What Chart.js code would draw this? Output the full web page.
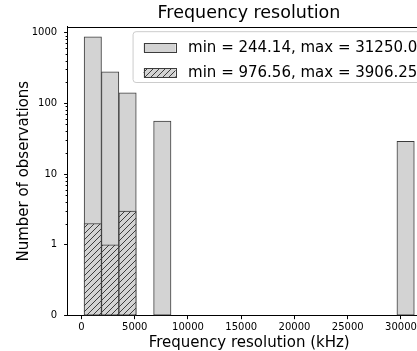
<!DOCTYPE html>
<html>
<head>
<meta charset="utf-8">
<title>Frequency resolution</title>
<script src="https://cdn.jsdelivr.net/npm/chart.js@4.4.0/dist/chart.umd.min.js"></script>
<style>
  html, body { margin: 0; padding: 0; overflow: hidden; background: #fff; }
  #wrap { width: 498px; height: 351px; }
</style>
</head>
<body>
<div id="wrap"><canvas id="myChart" width="498" height="351"></canvas></div>
<script>
// histogram bins (19 bins between 244.14 and 31250.0 kHz), centres in kHz
const binCenters = [1060.09, 2691.97, 4323.86, 5955.75, 7587.63, 9219.52, 10851.41, 12483.30,
    14115.18, 15747.07, 17378.96, 19010.84, 20642.73, 22274.62, 23906.51, 25538.39,
    27170.28, 28802.17, 30434.06];
const allCounts    = [861, 276, 140, 0, 56, 0, 0, 0, 0, 0, 0, 0, 0, 0, 0, 0, 0, 0, 29];
const narrowCounts = [2, 1, 3, 0, 0, 0, 0, 0, 0, 0, 0, 0, 0, 0, 0, 0, 0, 0, 0];
const seriesLabels = ['min = 244.14, max = 31250.0', 'min = 976.56, max = 3906.25'];

const xTicks = [0, 5000, 10000, 15000, 20000, 25000, 30000];
const yTicks = [0, 1, 10, 100, 1000];
const yMinorTicks = [2, 3, 4, 5, 6, 7, 8, 9, 20, 30, 40, 50, 60, 70, 80, 90,
    200, 300, 400, 500, 600, 700, 800, 900];

const edgeColor = '#3c3c3c';
const fillColor = '#d3d3d3';

Chart.defaults.font.family = '"DejaVu Sans", sans-serif';
Chart.defaults.color = '#000';

// symlog, linthresh = 1: linear between 0 and 1, log above
function symlog(v){ return v <= 1 ? v : 1 + Math.log10(v); }
function symexp(t){ return t <= 1 ? t : Math.pow(10, t - 1); }

class SymlogScale extends Chart.LinearScale {
    buildTicks(){
        return yTicks.filter(v => v >= this.min && v <= this.max).map(v => ({value: v}));
    }
    configure(){
        super.configure();
        this._tStart = symlog(this.min);
        this._tRange = symlog(this.max) - this._tStart;
    }
    getPixelForValue(v){
        return this.getPixelForDecimal((symlog(v) - this._tStart) / this._tRange);
    }
    getValueForPixel(p){
        return symexp(this._tStart + this.getDecimalForPixel(p) * this._tRange);
    }
}
SymlogScale.id = 'symlog';
SymlogScale.defaults = {};
Chart.register(SymlogScale);

function makeHatch(bg, fg){
    const s = 6;
    const c = document.createElement('canvas');
    c.width = s; c.height = s;
    const g = c.getContext('2d');
    g.fillStyle = bg;
    g.fillRect(0, 0, s, s);
    g.strokeStyle = fg;
    g.lineWidth = 1;
    g.beginPath();
    g.moveTo(-1, s + 1); g.lineTo(s + 1, -1);
    g.moveTo(-1, 1); g.lineTo(1, -1);
    g.moveTo(s - 1, s + 1); g.lineTo(s + 1, s - 1);
    g.stroke();
    return g.createPattern(c, 'repeat');
}

function toPoints(counts){
    let pts = [];
    for (let i = 0; i < counts.length; i++) {
        if (counts[i] > 0) pts.push({x: binCenters[i], y: counts[i]});
    }
    return pts;
}

// matplotlib style legend inside the axes, upper right
const mplLegend = {
    id: 'mplLegend',
    afterDatasetsDraw(chart){
        const ctx = chart.ctx, area = chart.chartArea;
        const sets = chart.data.datasets;
        ctx.save();
        ctx.font = '15px "DejaVu Sans"';
        let textW = 0;
        for (let ds of sets) textW = Math.max(textW, ctx.measureText(ds.label).width);
        const right = area.right - 7.5;
        const textX = right - 6 - textW;
        const patchR = textX - 12.5, patchL = patchR - 32;
        const left = patchL - 11;
        const top = area.top + 4.5, bottom = area.top + 55.3;
        ctx.beginPath();
        if (ctx.roundRect) ctx.roundRect(left + 0.5, top + 0.5, right - left, bottom - top, 3);
        else ctx.rect(left + 0.5, top + 0.5, right - left, bottom - top);
        ctx.fillStyle = 'rgba(255,255,255,0.8)';
        ctx.fill();
        ctx.strokeStyle = '#cccccc';
        ctx.lineWidth = 1;
        ctx.stroke();
        sets.forEach((ds, i) => {
            const cy = area.top + 21 + i * 25.3;
            ctx.fillStyle = ds.backgroundColor;
            ctx.fillRect(patchL, cy - 4.7, 32, 9.4);
            ctx.strokeStyle = ds.borderColor;
            ctx.strokeRect(Math.round(patchL) + 0.5, Math.round(cy - 4.7) + 0.5, 32, 9);
            ctx.fillStyle = '#000';
            ctx.textBaseline = 'middle';
            ctx.textAlign = 'left';
            ctx.fillText(ds.label, textX, cy);
        });
        ctx.restore();
    }
};

// top/right spines and minor ticks on the y axis
const spines = {
    id: 'spines',
    afterDraw(chart){
        const ctx = chart.ctx, area = chart.chartArea;
        const ys = chart.scales.y;
        ctx.save();
        ctx.strokeStyle = '#000';
        ctx.lineWidth = 1;
        ctx.beginPath();
        const t = Math.round(area.top) + 0.5;
        ctx.moveTo(area.left, t); ctx.lineTo(area.right, t);
        ctx.moveTo(Math.round(area.right) + 0.5, area.top); ctx.lineTo(Math.round(area.right) + 0.5, area.bottom);
        for (let v of yMinorTicks) {
            if (v > ys.max) continue;
            const py = Math.round(ys.getPixelForValue(v)) + 0.5;
            ctx.moveTo(area.left - 2, py); ctx.lineTo(area.left, py);
        }
        ctx.stroke();
        ctx.restore();
    }
};

const data = {
    datasets: [{
        label: seriesLabels[0],
        data: toPoints(allCounts),
        backgroundColor: fillColor,
        borderColor: edgeColor,
        borderWidth: 1,
        borderSkipped: false,
        order: 2
    }, {
        label: seriesLabels[1],
        data: toPoints(narrowCounts),
        backgroundColor: makeHatch(fillColor, edgeColor),
        borderColor: edgeColor,
        borderWidth: 1,
        borderSkipped: false,
        order: 1
    }]
};

const config = {
    type: 'bar',
    data: data,
    plugins: [mplLegend, spines],
    options: {
        responsive: false,
        animation: false,
        layout: { padding: 0 },
        datasets: { bar: { barPercentage: 1, categoryPercentage: 1, grouped: false } },
        plugins: {
            legend: { display: false },
            tooltip: { enabled: false },
            title: {
                display: true,
                text: 'Frequency resolution',
                color: '#000',
                font: { size: 17.5, weight: 'normal', lineHeight: 1.2 },
                padding: { top: 2.5, bottom: 3.2 }
            }
        },
        scales: {
            x: {
                type: 'linear',
                offset: false,
                min: -1306,
                max: 32800,
                afterBuildTicks: s => { s.ticks = xTicks.map(v => ({value: v})); },
                afterFit: s => { s.height = 35.3; },
                grid: { offset: false, drawOnChartArea: false, tickLength: 3.5, tickColor: '#000' },
                border: { color: '#000', width: 1 },
                ticks: { font: { size: 10 }, padding: 2, maxRotation: 0, autoSkip: false,
                    callback: v => String(v) },
                title: { display: true, text: 'Frequency resolution (kHz)',
                    font: { size: 15, lineHeight: 1 }, padding: { top: 0, bottom: 0 } }
            },
            y: {
                type: 'symlog',
                position: 'left',
                min: 0,
                max: 1200,
                afterFit: s => { s.width = 67.6; },
                grid: { drawOnChartArea: false, tickLength: 3.5, tickColor: '#000' },
                border: { color: '#000', width: 1 },
                ticks: { font: { size: 10 }, padding: 7, autoSkip: false,
                    callback: v => String(v) },
                title: { display: true, text: 'Number of observations',
                    font: { size: 15, lineHeight: 1 }, padding: { top: 16.5, bottom: 0 } }
            },
            yr: {
                type: 'linear',
                position: 'right',
                afterFit: s => { s.width = 67.2; },
                grid: { display: false },
                border: { display: false },
                ticks: { display: false }
            }
        }
    }
};

const myChart = new Chart(document.getElementById('myChart'), config);
</script>
</body>
</html>
